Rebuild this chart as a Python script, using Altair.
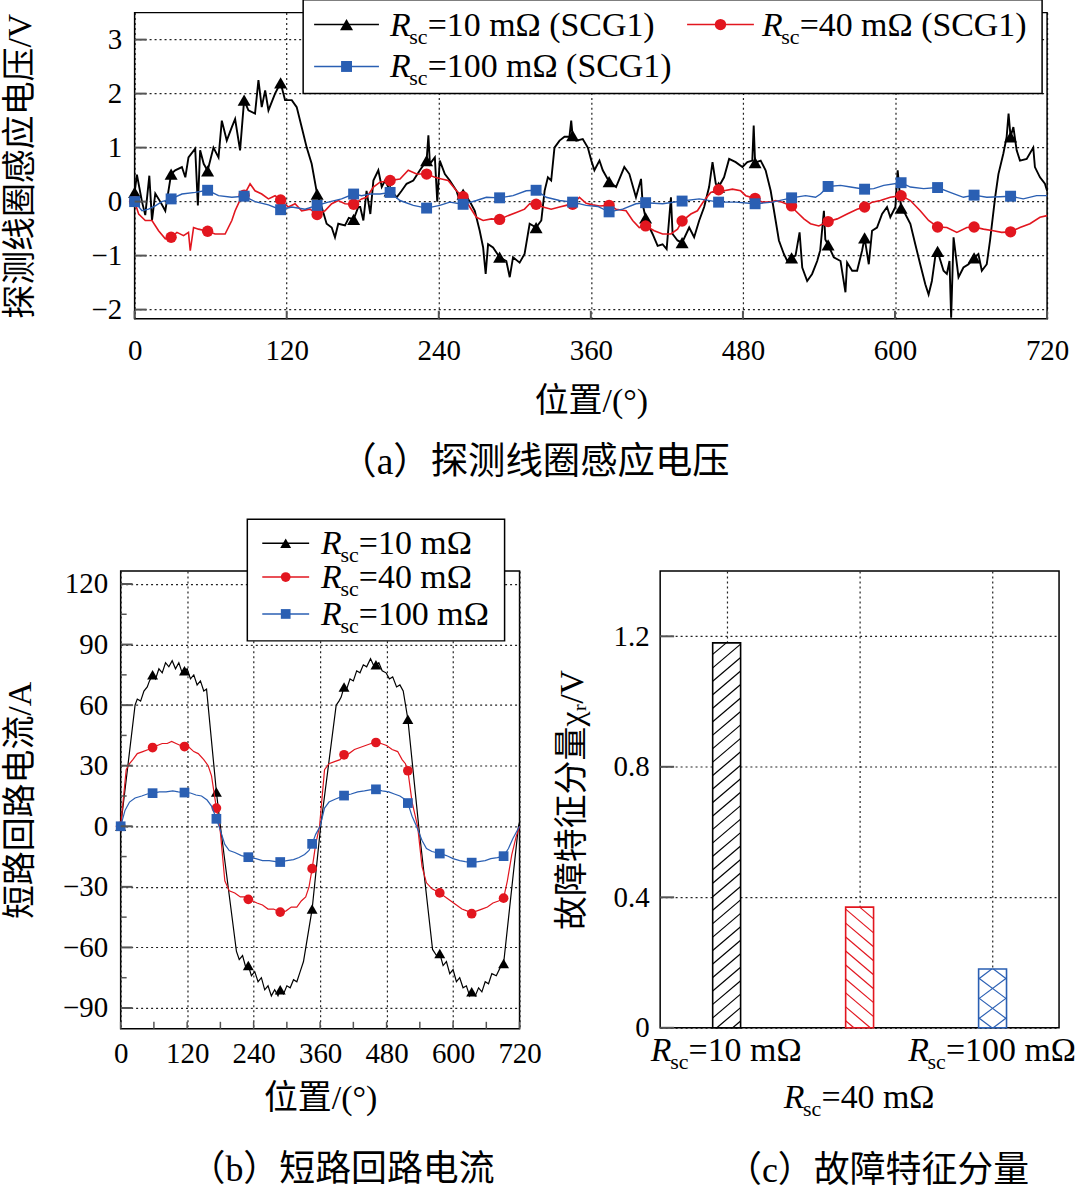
import altair as alt
import pandas as pd

FONT_LAT = "Liberation Serif"
FONT_MIX = "Liberation Serif, DejaVu Serif, Noto Sans CJK SC"
BLACK = "#000000"
RED = "#e2161f"
BLUE = "#2a5fb3"
GRID = dict(grid=True, gridColor="#222222", gridDash=[2, 3], gridWidth=1.2)

# ---------------- (a) probe coil voltage ----------------
A_XTICKS = [0, 120, 240, 360, 480, 600, 720]
A_YTICKS = [-2, -1, 0, 1, 2, 3]
A_MARK_X = [0, 28.8, 57.6, 86.4, 115.2, 144, 172.8, 201.6, 230.4, 259.2, 288, 316.8, 345.6,
            374.4, 403.2, 432, 460.8, 489.6, 518.4, 547.2, 576, 604.8, 633.6, 662.4, 691.2]

A_BLACK_X = [0, 1.8, 5.8, 8.4, 11.6, 13.7, 16.3, 20.2, 24.2, 28.8, 32, 37.3, 40, 42.5, 47.8, 49.9, 51.7,
             54.5, 57.6, 62.2, 66.2, 68.8, 72.7, 76.7, 79.3, 83.2, 86.4, 89.8, 95, 97.7, 100.3, 103, 105.6,
             110.8, 115.2, 118.7, 124, 127.9, 131.8, 135.8, 139.7, 144, 147.6, 151.5, 155.5, 158.1, 160.7,
             166, 169, 172.8, 176.5, 178, 180.5, 183, 186, 188.4, 192.3, 195, 197.6, 201.6, 206.8, 210.7,
             214.6, 219.9, 225.1, 230.4, 231.8, 233, 236.9, 238.8, 240.8, 244.8, 248.7, 254, 257.9, 259.2,
             264.5, 268.4, 272.3, 275, 277, 278.9, 282.8, 288, 293.3, 296, 298.6, 303.8, 307.7, 311.7,
             316.8, 320.9, 323.5, 326.1, 328.7, 331.3, 335.3, 339.2, 343.1, 344.5, 345.6, 348.4, 353.6,
             357.6, 360.5, 362.8, 366.8, 369.4, 374.4, 379.9, 386.4, 390.4, 395.6, 399.6, 400.9, 403.2,
             404.8, 408.7, 412.7, 416.6, 419.8, 423.2, 424.5, 428.4, 432, 437.6, 441.5, 445.5, 449.4,
             453.3, 456, 458.6, 460.8, 465.1, 469.1, 474.3, 479.6, 483.5, 487.4, 488.5, 489.6, 494, 497.9,
             501.9, 505.8, 508.4, 512.3, 515, 518.4, 521.5, 524.7, 526.8, 530.7, 534.6, 538.6, 541, 543.9,
             545, 547.2, 551.7, 557, 560.9, 562.2, 566.2, 570.1, 574, 576, 579.3, 581.9, 585.8, 589.8,
             593.7, 596.3, 600.3, 602.1, 604.8, 608.1, 612.1, 616, 619.9, 623.9, 626.5, 629.1, 631.7,
             633.6, 638.3, 640.9, 643, 644.3, 646.2, 650.1, 654, 658, 662.4, 665.8, 668.5, 672.4, 675,
             679, 681.6, 685.5, 688.1, 689.6, 691.2, 693.4, 696, 698.6, 703.9, 709.1, 710.4, 714.4,
             718.3, 720]
A_BLACK_Y = [0.17, 0.5, 0.0, -0.25, 0.48, -0.35, 0.15, 0.0, -0.17, 0.51, 0.58, 0.64, 0.45, 0.82, 0.98, -0.07,
             0.95, 0.7, 0.57, 1.0, 0.82, 1.5, 1.13, 1.38, 1.53, 0.95, 1.88, 1.69, 1.63, 2.25, 1.75, 2.06, 1.69,
             2.0, 2.2, 1.88, 1.88, 1.75, 1.38, 1.0, 0.7, 0.14, -0.1, -0.41, -0.48, -0.66, -0.41,
             -0.44, -0.3, -0.33, -0.1, -0.1, -0.35, 0.2, -0.23, 0.39, 0.58, 0.27, 0.39, 0.2, 0.08, 0.2,
             0.33, 0.39, 0.58, 0.76, 1.23, 0.7, 0.82, 0.0, 0.76, 0.51, 0.39, 0.2, -0.1, 0.14,
             0.0, -0.17, -0.54, -0.85, -1.34, -0.79, -0.85, -1.03, -1.1, -1.4, -1.03, -1.13, -0.97, -0.41,
             -0.48, -0.35, 0.2, 0.45, 0.39, 1.0, 1.13, 1.2, 1.2, 1.5, 1.22, 1.13, 1.16,
             1.0, 0.75, 0.58, 0.76, 0.58, 0.37, 0.27, 0.64, 0.51, 0.08, 0.42, -0.05, -0.3,
             -0.41, -0.6, -0.82, -0.79, -0.88, 0.08, -0.6, -0.72, -0.76, -0.48, -0.66, -0.35, -0.1,
             0.27, 0.73, 0.33, 0.27, 0.45, 0.79, 0.73, 0.64, 0.73, 0.76, 1.41, 0.72, 0.76, 0.58,
             0.2, -0.35, -0.72, -0.97, -1.1, -1.04, -1.0, -0.57, -1.22, -1.47, -1.34, -1.1, -0.9, -0.17,
             -0.7, -0.8, -1.03, -1.1, -1.68, -1.13, -1.28, -1.28, -0.91, -0.67, -1.16, -0.54, -0.48, -0.23,
             -0.1, -0.29, -0.1, 0.58, -0.12, -0.23, -0.41, -0.79, -1.16, -1.53, -1.72, -1.47, -1.03,
             -0.92, -1.28, -1.34, -1.1, -2.15, -0.66, -1.4, -1.22, -1.16, -1.04, -0.97, -1.28, -1.16, -0.72,
             0.08, 0.51, 0.89, 1.2, 1.63, 1.2, 1.38, 0.95, 0.76, 0.79, 1.0, 0.64, 0.45,
             0.33, 0.2]

A_RED_X = [0, 3.2, 8.4, 13.7, 18.9, 24.2, 28.8, 33.4, 38.6, 42.5, 43.9, 46.5, 50.4, 57.6, 63.5, 71.4, 76.7,
           79.3, 84.6, 86.4, 91.1, 95, 100.3, 105.6, 110.8, 115.2, 121.3, 126.6, 131.8, 138.4, 144, 150.2,
           155.5, 160.7, 166, 172.8, 179.1, 183.1, 188.4, 193.6, 201.6, 209.4, 215.9, 222.5, 230.4, 236.9,
           242.2, 247.4, 254, 259.2, 264.5, 269.7, 275, 281.5, 288, 294.6, 301.2, 307.7, 311.7, 316.8,
           322.2, 328.7, 335.3, 340.5, 345.6, 351, 356.3, 361.5, 366.8, 374.4, 379.9, 387.8, 393, 398.2,
           403.2, 410, 416.6, 423.2, 428.4, 432, 438.9, 444.1, 449.4, 454.6, 460.8, 465.1, 471.7, 478.2,
           482.2, 489.6, 495.3, 501.9, 505.8, 511, 518.4, 521.5, 528.1, 533.3, 539.9, 547.2, 554.4, 562.2,
           570.1, 576, 581.9, 588.5, 596.3, 604.8, 612.1, 619.9, 626.5, 633.6, 640.9, 648.8, 656.7, 662.4,
           669.8, 677.6, 684.2, 691.2, 698.6, 706.5, 714.4, 720]
A_RED_Y = [0.0, -0.23, -0.35, -0.35, -0.54, -0.69, -0.66, -0.57, -0.63, -0.57, -0.91, -0.48, -0.51, -0.55,
           -0.6, -0.6, -0.35, -0.17, 0.1, 0.12, 0.33, 0.2, 0.14, 0.05, 0.11, 0.03, -0.1, -0.04, -0.17, -0.14,
           -0.24, -0.17, -0.04, 0.02, -0.04, -0.05, 0.05, 0.08, 0.27, 0.36, 0.39, 0.42, 0.58, 0.51, 0.51, 0.45,
           0.42, 0.39, 0.2, 0.09, -0.1, -0.29, -0.35, -0.32, -0.33, -0.26, -0.2, -0.14, -0.04, -0.05,
           -0.1, -0.14, -0.1, -0.07, -0.05, 0.08, -0.03, -0.06, -0.08, -0.07, -0.14, -0.17, -0.35, -0.48,
           -0.45, -0.54, -0.6, -0.6, -0.51, -0.36, -0.23, -0.17, 0.02, 0.17, 0.22, 0.2, 0.23, 0.2,
           0.11, 0.06, -0.01, -0.01, 0.02, -0.01, -0.08, -0.17, -0.32, -0.41, -0.45, -0.37, -0.32, -0.23,
           -0.14, -0.1, -0.01, 0.02, 0.08, 0.11, 0.02, -0.17, -0.35, -0.47, -0.48, -0.57, -0.48, -0.47,
           -0.51, -0.54, -0.57, -0.56, -0.48, -0.41, -0.29, -0.26]

A_BLUE_X = [0, 5.8, 11, 16.3, 21.5, 28.8, 37.3, 47.8, 57.6, 66.2, 76.7, 86.4, 95, 105.6, 115.2, 124, 134.5,
            144, 152.8, 163.3, 172.8, 179.1, 185.8, 193.6, 201.6, 209.4, 219.9, 230.4, 240.8, 248.7, 259.2,
            269.7, 277.6, 288, 298.6, 309, 316.8, 324.8, 335.3, 345.6, 356.3, 365.4, 374.4, 385.1, 395.6,
            403.2, 416.6, 432, 445.5, 460.8, 474.3, 489.6, 503.2, 518.4, 529.4, 537.3, 541.2, 547.2, 557,
            564.9, 576, 583.2, 591.1, 604.8, 612.1, 622.6, 633.6, 643.5, 654, 662.4, 672.4, 682.9, 691.2,
            701.2, 711.7, 720]
A_BLUE_Y = [0.0, -0.17, -0.14, -0.08, 0.0, 0.05, 0.14, 0.17, 0.21, 0.11, 0.08, 0.1, 0.0, -0.06, -0.15, -0.1,
            -0.14, -0.07, -0.01, 0.05, 0.14, 0.11, 0.14, 0.14, 0.17, 0.02, -0.07, -0.12, -0.07, -0.01, -0.05,
            0.02, 0.08, 0.07, 0.11, 0.2, 0.21, 0.08, 0.02, -0.01, -0.07, -0.09, -0.19, -0.14, -0.04,
            -0.02, -0.04, 0.01, 0.05, -0.01, -0.01, -0.04, -0.01, 0.07, 0.11, 0.08, 0.14, 0.28, 0.3,
            0.27, 0.23, 0.24, 0.3, 0.35, 0.27, 0.24, 0.26, 0.17, 0.08, 0.12, 0.08, 0.09, 0.1,
            0.05, 0.11, 0.11]

# ---------------- (b) short-circuit loop current ----------------
B_XTICKS = [0, 120, 240, 360, 480, 600, 720]
B_XMINOR = [60, 180, 300, 420, 540, 660]
B_YTICKS = [-90, -60, -30, 0, 30, 60, 90, 120]
B_YMINOR = [-75, -45, -15, 15, 45, 75, 105]
B_MARK_X = [0, 57.6, 115.2, 172.8, 230.4, 288, 345.6, 403.2, 460.8, 518.4, 576, 633.6, 691.2]

B_BLACK_X = [0, 26, 30, 36, 42, 48, 52, 57.6, 63, 69, 75, 81, 87, 93, 99, 105, 111, 115.2, 120, 126, 132,
             138, 144, 150, 155, 172.8, 180, 209, 214, 220, 226, 230.4, 236, 242, 248, 254, 260, 266, 272,
             278, 284, 288, 294, 300, 306, 312, 318, 324, 330, 345.6, 361, 389, 394, 398, 403.2, 408, 414,
             420, 426, 432, 438, 444, 451, 456, 460.8, 466, 472, 479, 485, 491, 498, 504, 510, 518.4, 538,
             563, 570, 576, 582, 588, 594, 600, 606, 612, 618, 624, 630, 633.6, 640, 646, 652, 658, 664,
             670, 678, 685, 691.2, 718, 720]
B_BLACK_Y = [0, 60, 63, 62, 67, 69, 72, 75, 73, 78, 76, 81, 79, 82, 78, 81, 76, 77, 78, 73, 75,
             70, 72, 67, 68, 17, 0, -62, -66, -64, -70, -69, -74, -72, -77, -75, -81, -79, -84,
             -81, -84, -81, -83, -79, -80, -76, -77, -72, -67, -41, 0, 60, 62, 64, 69, 68, 73,
             72, 77, 76, 80, 79, 83, 80, 80, 81, 77, 76, 73, 74, 69, 70, 67, 53, 0,
             -61, -64, -63, -69, -67, -73, -71, -77, -75, -80, -79, -84, -82, -84, -80, -82, -77, -78,
             -73, -74, -70, -68, 0, 2]

B_RED_X = [0, 10, 16, 22, 30, 40, 50, 57.6, 66, 75, 84, 92, 100, 108, 115.2, 124, 132, 140, 150, 158, 164,
           172.8, 180, 188, 196, 206, 216, 224, 230.4, 238, 246, 256, 266, 276, 288, 298, 308, 318, 326,
           334, 340, 345.6, 352, 359, 368, 376, 386, 396, 403.2, 412, 422, 432, 442, 452, 460.8, 470, 480,
           490, 500, 508, 514, 518.4, 526, 536, 544, 552, 562, 576, 586, 596, 606, 616, 626, 633.6, 642,
           652, 662, 672, 682, 691.2, 698, 706, 714, 720]
B_RED_Y = [0, 28, 31, 33, 36, 37, 38, 39, 40, 41, 41, 42, 41, 40, 39.5, 39, 37, 36, 33, 30, 25,
           9, -3, -27, -32, -33, -35, -35, -36.2, -37, -38, -39, -41, -41, -42.5, -42, -40, -40, -37,
           -35, -30, -21, -9, 0, 28, 31, 32, 33, 35.4, 36, 38, 39, 40, 41, 41.5, 41, 40,
           38, 37, 33, 31, 27.5, 12, 0, -20, -28, -31, -33, -35, -37, -39, -41, -42, -43.3, -42,
           -41, -40, -38, -37, -35.6, -27, -14, -5, 0]

B_BLUE_X = [0, 8, 16, 26, 38, 48, 57.6, 70, 82, 94, 104, 115.2, 126, 136, 146, 156, 164, 172.8, 180, 188,
            196, 206, 218, 230.4, 244, 256, 268, 280, 288, 300, 312, 322, 332, 340, 345.6, 352, 360, 368,
            376, 388, 403.2, 416, 428, 440, 450, 460.8, 472, 484, 494, 504, 512, 518.4, 526, 534, 544, 552,
            562, 576, 588, 600, 612, 622, 633.6, 646, 658, 668, 680, 691.2, 700, 708, 716, 720]
B_BLUE_Y = [0, 8, 12, 14, 15, 16, 16.4, 17, 17, 17.5, 17, 16.7, 16.5, 15.5, 15, 13, 10, 3.7, -2, -9,
            -12, -13, -14.5, -15.3, -16, -17, -17, -17.5, -17.7, -17, -16.5, -15.5, -14, -12, -8.7, -4, 0, 9,
            12, 13.5, 15.2, 16, 17, 17.5, 18, 18.3, 17.5, 17, 16, 15, 13.5, 11.5, 5, 0, -7, -11,
            -12.5, -13.5, -14.5, -16, -17, -17.5, -18, -17.5, -17, -16, -15.5, -14.8, -11, -6, -2, 0]

# ---------------- (c) fault feature component ----------------
C_RSC = ["10", "40", "100"]
C_VALUES = [1.18, 0.37, 0.18]
C_YTICKS = [0, 0.4, 0.8, 1.2]

# ======================= helpers =======================
def series_layers(xs, ys, color, shape, lw, msize, X, Y, mark_x):
    df = pd.DataFrame({"x": xs, "y": ys})
    keys = set(round(m, 1) for m in mark_x)
    mk = df[df["x"].round(1).isin(keys)]
    line = alt.Chart(df).mark_line(color=color, strokeWidth=lw).encode(x=X, y=Y)
    pts = alt.Chart(mk).mark_point(shape=shape, filled=True, fill=color, color=color, size=msize,
                                   opacity=1, strokeWidth=0).encode(x=X, y=Y)
    return [line, pts]


ONE = pd.DataFrame({"a": [0]})


def ptext(text, x, y, size, font=FONT_LAT, style="normal", align="left", baseline="alphabetic"):
    return alt.Chart(ONE).mark_text(text=text, font=font, fontSize=size, fontStyle=style, align=align,
                                    baseline=baseline, color="black").encode(x=alt.value(x), y=alt.value(y))


def rsc_label(x0, ybase, rest, fs=34, sub=22):
    return [ptext("R", x0, ybase, fs, style="italic"),
            ptext("sc", x0 + 0.57 * fs, ybase + 8, sub),
            ptext(rest, x0 + 0.57 * fs + 0.84 * sub, ybase, fs)]


def legend_item(x0, yc, length, color, shape, msize, text_x, rest, lw=1.5):
    line = alt.Chart(ONE).mark_rule(color=color, strokeWidth=lw).encode(
        x=alt.value(x0), x2=alt.value(x0 + length), y=alt.value(yc))
    sym = alt.Chart(ONE).mark_point(shape=shape, filled=True, fill=color, color=color, size=msize,
                                    opacity=1, strokeWidth=0).encode(x=alt.value(x0 + length / 2),
                                                                      y=alt.value(yc))
    return [line, sym] + rsc_label(text_x, yc + 11, rest)


def box(x1, x2, y1, y2, fill="white"):
    return alt.Chart(ONE).mark_rect(fill=fill, fillOpacity=1 if fill == "white" else 0,
                                    stroke="black", strokeWidth=1.5).encode(
        x=alt.value(x1), x2=alt.value(x2), y=alt.value(y1), y2=alt.value(y2))


def axis_common(**kw):
    base = dict(labelFont=FONT_LAT, labelFontSize=29, labelColor="black", domain=False, ticks=False,
                labelFlush=False, labelOverlap=False, titleFont=FONT_MIX, titleFontSize=34,
                titleFontWeight="normal", titleColor="black", titleBaseline="middle")
    base.update(GRID)
    base.update(kw)
    return alt.Axis(**base)


# ======================= panel (a) =======================
# the view starts SHIFT px left of the plotted frame so that the frame sits 14 px right of panel (b)
SHIFT = 14
WA, HA = 915, 307
XA = alt.X("x:Q", scale=alt.Scale(domain=[0, 720], range=[SHIFT, SHIFT + WA], nice=False, zero=False),
           axis=axis_common(values=A_XTICKS, title="位置/(°)", labelPadding=18, titleX=SHIFT + WA / 2,
                            titleY=83))
YA = alt.Y("y:Q", scale=alt.Scale(domain=[-2.17, 3.5], nice=False, zero=False),
           axis=axis_common(values=A_YTICKS, title="探测线圈感应电压/V", labelPadding=13, grid=False,
                            offset=-SHIFT, titleX=-114, titleY=HA / 2))

a_layers = []
a_layers.append(alt.Chart(pd.DataFrame({"y": A_YTICKS})).mark_rule(
    color="#222222", strokeWidth=1.2, strokeDash=[2, 3]).encode(
    y=YA, x=alt.value(SHIFT), x2=alt.value(SHIFT + WA)))
a_layers.append(box(SHIFT, SHIFT + WA, 0, HA, fill="none"))
a_layers += series_layers(A_BLACK_X, A_BLACK_Y, BLACK, "triangle-up", 1.9, 170, XA, YA, A_MARK_X)
a_layers += series_layers(A_RED_X, A_RED_Y, RED, "circle", 1.6, 130, XA, YA, A_MARK_X)
a_layers += series_layers(A_BLUE_X, A_BLUE_Y, BLUE, "square", 1.4, 120, XA, YA, A_MARK_X)
a_layers.append(alt.Chart(pd.DataFrame({"y": A_YTICKS})).mark_rule(color="#555555", strokeWidth=2).encode(
    y=YA, x=alt.value(SHIFT), x2=alt.value(SHIFT + 12)))
a_layers.append(alt.Chart(pd.DataFrame({"x": A_XTICKS})).mark_rule(color="#555555", strokeWidth=2).encode(
    x=XA, y=alt.value(HA), y2=alt.value(HA - 8)))
a_layers.append(box(SHIFT + 169, SHIFT + 910, -13, 81))
a_layers += legend_item(SHIFT + 180, 12, 65, BLACK, "triangle-up", 170, SHIFT + 256, "=10 mΩ (SCG1)")
a_layers += legend_item(SHIFT + 554, 12, 67, RED, "circle", 130, SHIFT + 629, "=40 mΩ (SCG1)")
a_layers += legend_item(SHIFT + 180, 54, 65, BLUE, "square", 120, SHIFT + 256, "=100 mΩ (SCG1)")
a_layers.append(ptext("（a）探测线圈感应电压", SHIFT + 401, 452, 37.5, font=FONT_MIX, align="center",
                      baseline="middle"))
panel_a = alt.layer(*a_layers).properties(width=SHIFT + WA, height=HA,
                                          view=alt.ViewBackground(stroke="transparent"))

# ======================= panel (b) =======================
WB, HB = 400, 459
XB = alt.X("x:Q", scale=alt.Scale(domain=[0, 720], nice=False, zero=False),
           axis=axis_common(values=B_XTICKS, title="位置/(°)", labelPadding=11, titleX=WB / 2, titleY=70))
YB = alt.Y("y:Q", scale=alt.Scale(domain=[-100.3, 126.4], nice=False, zero=False),
           axis=axis_common(values=B_YTICKS, title="短路回路电流/A", labelPadding=13,
                            titleX=-100, titleY=HB / 2))

b_layers = []
b_layers += series_layers(B_BLACK_X, B_BLACK_Y, BLACK, "triangle-up", 1.2, 120, XB, YB, B_MARK_X)
b_layers += series_layers(B_RED_X, B_RED_Y, RED, "circle", 1.2, 95, XB, YB, B_MARK_X)
b_layers += series_layers(B_BLUE_X, B_BLUE_Y, BLUE, "square", 1.2, 95, XB, YB, B_MARK_X)
b_layers.append(alt.Chart(pd.DataFrame({"y": B_YTICKS})).mark_rule(color="#555555", strokeWidth=2).encode(
    y=YB, x=alt.value(0), x2=alt.value(12)))
b_layers.append(alt.Chart(pd.DataFrame({"y": B_YMINOR})).mark_rule(color="#555555", strokeWidth=1.5).encode(
    y=YB, x=alt.value(0), x2=alt.value(6)))
b_layers.append(alt.Chart(pd.DataFrame({"x": B_XTICKS + B_XMINOR})).mark_rule(
    color="#555555", strokeWidth=1.5).encode(x=XB, y=alt.value(HB), y2=alt.value(HB - 7)))
b_layers.append(box(127, 385, -52, 70))
b_layers += legend_item(142, -28, 47, BLACK, "triangle-up", 120, 201, "=10 mΩ")
b_layers += legend_item(142, 6, 47, RED, "circle", 95, 201, "=40 mΩ")
b_layers += legend_item(142, 43, 47, BLUE, "square", 95, 201, "=100 mΩ")
b_layers.append(ptext("（b）短路回路电流", 222, 601, 36, font=FONT_MIX, align="center", baseline="middle"))
panel_b = alt.layer(*b_layers).properties(width=WB, height=HB)

# ======================= panel (c) =======================
WC, HC = 400, 458
BAR_HALF = 0.105
XC = alt.X("x:Q", scale=alt.Scale(domain=[0, 3], nice=False, zero=False),
           axis=axis_common(values=[0.5, 1.5, 2.5], labels=False, title=None))
YC = alt.Y("y:Q", scale=alt.Scale(domain=[0, 1.4], nice=False, zero=False),
           axis=axis_common(values=C_YTICKS, title="故障特征分量χᵣ/V", labelPadding=11,
                            labelExpr="datum.value == 0 ? '0' : format(datum.value, '.1f')",
                            titleX=-88, titleY=HC / 2))


def hatch(xc, top, kind, spacing, slope):
    ppx = WC / 3.0
    ppy = HC / 1.4
    w = 2 * BAR_HALF * ppx
    H = top * ppy
    segs = []

    def add(xa, ya, xb, yb):
        segs.append({"x": xc - BAR_HALF + xa / ppx, "y": ya / ppy,
                     "x2": xc - BAR_HALF + xb / ppx, "y2": yb / ppy})

    if kind in ("/", "x"):
        c = -slope * w + spacing / 2
        while c < H:
            xa, ya, xb, yb = 0.0, c, w, c + slope * w
            if ya < 0:
                xa, ya = -c / slope, 0.0
            if yb > H:
                xb, yb = (H - c) / slope, H
            if xb > xa:
                add(xa, ya, xb, yb)
            c += spacing
    if kind in ("\\", "x"):
        c = spacing / 2
        while c - slope * w < H:
            xa, ya, xb, yb = 0.0, c, w, c - slope * w
            if ya > H:
                xa, ya = (c - H) / slope, H
            if yb < 0:
                xb, yb = c / slope, 0.0
            if xb > xa:
                add(xa, ya, xb, yb)
            c += spacing
    return pd.DataFrame(segs)


c_layers = []
styles = [(BLACK, "/", 13.5, 0.85), (RED, "\\", 14.0, 0.85), (BLUE, "x", 20.0, 0.75)]
for i, (rsc, val) in enumerate(zip(C_RSC, C_VALUES)):
    color, kind, sp, sl = styles[i]
    xc = i + 0.5
    bar = pd.DataFrame({"x": [xc - BAR_HALF], "x2": [xc + BAR_HALF], "y": [val], "y2": [0.0]})
    c_layers.append(alt.Chart(bar).mark_rect(fill="white", stroke=color, strokeWidth=1.6).encode(
        x=XC, x2="x2:Q", y=YC, y2="y2:Q"))
    hd = hatch(xc, val, kind, sp, sl)
    c_layers.append(alt.Chart(hd).mark_rule(color=color, strokeWidth=1.2).encode(
        x=XC, x2="x2:Q", y=YC, y2="y2:Q"))
c_layers.append(alt.Chart(pd.DataFrame({"y": C_YTICKS})).mark_rule(color="#555555", strokeWidth=2).encode(
    y=YC, x=alt.value(0), x2=alt.value(14)))

lab_rows = [491, 538, 491]
for i, rsc in enumerate(C_RSC):
    rest = "=" + rsc + " mΩ"
    width = 0.57 * 34 + 0.84 * 22 + (3.36 + (0.5 if len(rsc) == 3 else 0)) * 34
    cx = (i + 0.5) * WC / 3
    c_layers += rsc_label(cx - width / 2, lab_rows[i], rest)
c_layers.append(ptext("（c）故障特征分量", 218, 602, 36, font=FONT_MIX, align="center", baseline="middle"))
panel_c = alt.layer(*c_layers).properties(width=WC, height=HC)

bottom = alt.hconcat(panel_b, panel_c, spacing=12)
chart = alt.vconcat(panel_a, bottom, spacing=34).properties(
    padding={"left": 3, "top": -4, "right": 0, "bottom": 0}, background="white"
).configure_view(stroke="black", strokeWidth=1.5)

chart.save("out.html", embed_options={"renderer": "svg", "actions": False})
